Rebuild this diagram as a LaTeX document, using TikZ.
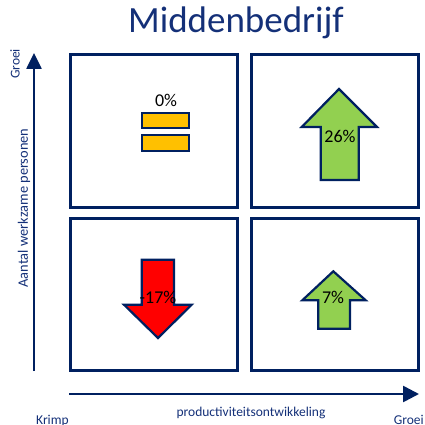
\documentclass[tikz,border=0pt]{standalone}
\usepackage{fontspec}
\setmainfont{Carlito}
\usetikzlibrary{arrows.meta}
\definecolor{navy}{RGB}{0,32,96}
\definecolor{textblue}{RGB}{20,48,120}
\definecolor{barfill}{RGB}{255,192,0}
\definecolor{greenfill}{RGB}{146,208,80}
\definecolor{redfill}{RGB}{255,0,0}
\tikzset{
  quadbox/.style={draw=navy, line width=3pt},
  axisline/.style={draw=navy, line width=2.6pt},
  shapeline/.style={draw=navy, line width=2.2pt, line join=miter},
  pct/.style={font=\fontsize{18}{18}\selectfont, text=black, inner sep=0pt},
  axlabel/.style={font=\fontsize{13.5}{13.5}\selectfont, text=textblue, inner sep=0pt},
}
\begin{document}
\begin{tikzpicture}[x=1pt,y=-1pt]
\useasboundingbox (0,0) rectangle (424,425);
% title
\node[font=\fontsize{37}{37}\selectfont, text=textblue, anchor=base, inner sep=0pt] (title) at (236,33) {Middenbedrijf};
% quadrants
\node[quadbox, minimum width=166.5pt, minimum height=153pt, inner sep=0pt] (qtl) at (153.75,131) {};
\node[quadbox, minimum width=166.5pt, minimum height=153pt, inner sep=0pt] (qtr) at (334.75,131) {};
\node[quadbox, minimum width=166.5pt, minimum height=152.5pt, inner sep=0pt] (qbl) at (153.75,294.25) {};
\node[quadbox, minimum width=166.5pt, minimum height=152.5pt, inner sep=0pt] (qbr) at (334.75,294.25) {};
% axes
\coordinate (ybot) at (34,371);
\coordinate (ytop) at (34,53);
\coordinate (xleft) at (69,394);
\coordinate (xright) at (419,394);
\draw[axisline, -{Triangle[length=16pt,width=15pt]}] (ybot) -- (ytop);
\draw[axisline, -{Triangle[length=16pt,width=16pt]}] (xleft) -- (xright);
% axis labels
\node[axlabel, rotate=90] (groeiy) at (15,64) {Groei};
\node[axlabel, rotate=90, font=\fontsize{14.4}{14.4}\selectfont] (ylab) at (24,208) {Aantal werkzame personen};
\node[axlabel, anchor=base] (xlab) at (251,416) {productiviteitsontwikkeling};
\node[axlabel, anchor=base west] (krimp) at (36,424) {Krimp};
\node[axlabel, anchor=base east] (groeix) at (424,424) {Groei};
% top-left: equals bars
\draw[shapeline, fill=barfill] (141.7,113) rectangle (189.3,128);
\draw[shapeline, fill=barfill] (141.7,135) rectangle (189.3,151);
\node[pct] (p0) at (166,100) {0\%};
% top-right: big up arrow
\draw[shapeline, fill=greenfill] (339,89) -- (377,127) -- (358.7,127) -- (358.7,180) -- (320.7,180) -- (320.7,127) -- (301.7,127) -- cycle;
\node[pct] (p26) at (340,136) {26\%};
% bottom-left: down arrow
\draw[shapeline, fill=redfill] (141.7,259.7) -- (174,259.7) -- (174,304.7) -- (191.7,304.7) -- (158,338) -- (124,304.7) -- (141.7,304.7) -- cycle;
\node[pct] (p17) at (158,297) {-17\%};
% bottom-right: small up arrow
\draw[shapeline, fill=greenfill] (333.3,271.3) -- (365.7,300.3) -- (350,300.3) -- (350,328.7) -- (318.3,328.7) -- (318.3,300.3) -- (302.3,300.3) -- cycle;
\node[pct] (p7) at (333,297) {7\%};
\end{tikzpicture}
\end{document}
